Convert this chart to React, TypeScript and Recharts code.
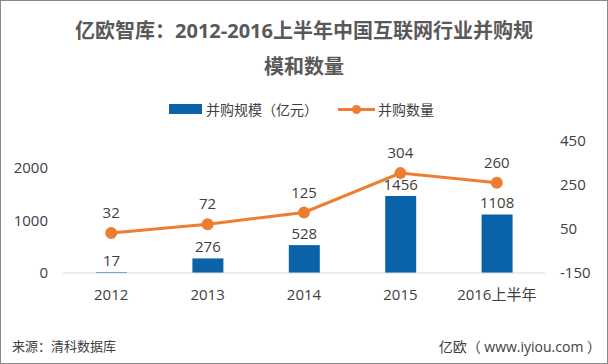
import React from "react";
import { ComposedChart, Bar, Line, XAxis, YAxis, LabelList } from "recharts";

const categories = ["2012", "2013", "2014", "2015", "2016上半年"];
const scaleValues = [17, 276, 528, 1456, 1108];
const countValues = [32, 72, 125, 304, 260];
const leftTicks = [0, 1000, 2000];
const rightTicks = [-150, 50, 250, 450];

const data = categories.map((c, i) => ({ name: c, scale: scaleValues[i], count: countValues[i] }));

const FONT = "'Open Sans', 'Noto Sans CJK SC', sans-serif";
const BLUE = "#0A62A8";
const ORANGE = "#ED7D31";
const TEXT = "#404040";

export default function App() {
  return (
    <div
      style={{
        position: "fixed",
        left: 0,
        top: 0,
        width: 608,
        height: 364,
        background: "#fff",
        fontFamily: FONT,
        boxSizing: "border-box",
        border: "1px solid #8a8a8a",
        overflow: "hidden",
      }}
    >
      <div
        style={{
          position: "absolute",
          left: 0,
          width: 606,
          top: 12,
          textAlign: "center",
          fontWeight: 700,
          fontSize: 20,
          lineHeight: "36px",
          color: "#595959",
          whiteSpace: "nowrap",
        }}
      >
        亿欧智库：2012-2016上半年中国互联网行业并购规
        <br />
        模和数量
      </div>
      <div style={{ position: "absolute", left: 168, top: 98, display: "flex", alignItems: "center", fontSize: 14, color: TEXT }}>
        <div style={{ width: 33, height: 10, background: BLUE, marginRight: 4 }} />
        <span>并购规模（亿元）</span>
        <div style={{ position: "relative", width: 37, height: 10, marginLeft: 20, marginRight: 3 }}>
          <div style={{ position: "absolute", left: 0, right: 0, top: 4, height: 3, background: ORANGE }} />
          <div style={{ position: "absolute", left: 14, top: 1, width: 9, height: 9, borderRadius: 5, background: ORANGE }} />
        </div>
        <span>并购数量</span>
      </div>
      <div style={{ position: "absolute", left: 0, top: 0 }}>
        <ComposedChart
          width={606}
          height={362}
          data={data}
          margin={{ top: 140, right: 0, bottom: 60, left: 12 }}
          barCategoryGap="34%"
        >
          <XAxis
            dataKey="name"
            axisLine={{ stroke: "#D9D9D9" }}
            tickLine={false}
            tick={{ fill: TEXT, fontSize: 15, fontFamily: FONT }}
            tickMargin={10}
            height={30}
          />
          <YAxis
            yAxisId="left"
            domain={[0, 2500]}
            ticks={leftTicks}
            axisLine={false}
            tickLine={false}
            tick={{ fill: TEXT, fontSize: 15, fontFamily: FONT }}
            tickMargin={9}
            width={50}
          />
          <YAxis
            yAxisId="right"
            orientation="right"
            domain={[-150, 450]}
            ticks={rightTicks}
            axisLine={false}
            tickLine={false}
            tick={{ fill: TEXT, fontSize: 15, fontFamily: FONT }}
            tickMargin={9}
            width={62}
          />
          <Bar yAxisId="left" dataKey="scale" fill={BLUE} isAnimationActive={false} barSize={31}>
            <LabelList dataKey="scale" position="top" offset={6} fill={TEXT} fontSize={15} fontFamily={FONT} />
          </Bar>
          <Line
            yAxisId="right"
            dataKey="count"
            stroke={ORANGE}
            strokeWidth={3}
            dot={{ r: 4.5, fill: ORANGE, stroke: ORANGE }}
            isAnimationActive={false}
          >
            <LabelList dataKey="count" position="top" offset={15} fill={TEXT} fontSize={15} fontFamily={FONT} />
          </Line>
        </ComposedChart>
      </div>
      <div style={{ position: "absolute", left: 11, top: 335, fontSize: 13, color: TEXT }}>来源：清科数据库</div>
      <div style={{ position: "absolute", right: 6, top: 335, fontSize: 14, color: TEXT }}>亿欧（ www.iyiou.com ）</div>
    </div>
  );
}
